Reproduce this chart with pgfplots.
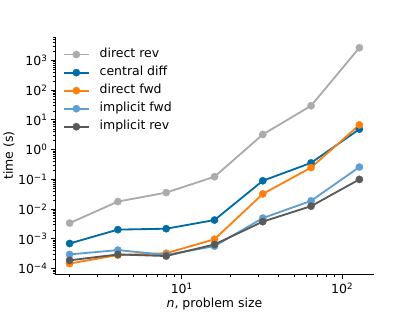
\documentclass[border=0pt]{standalone}
\usepackage{fontspec}
\setmainfont{DejaVu Sans}
\usepackage{pgfplots}
\pgfplotsset{compat=1.18}
\definecolor{cdrev}{HTML}{ABABAB}
\definecolor{ccd}{HTML}{006BA4}
\definecolor{cdfwd}{HTML}{FF800E}
\definecolor{cifwd}{HTML}{5F9ED1}
\definecolor{cirev}{HTML}{595959}
\begin{document}
\begin{tikzpicture}[font=\fontsize{12.6}{14.8}\selectfont]
\path (0,0) rectangle (415pt,311pt);
\begin{axis}[
  at={(51.9pt,34.2pt)}, anchor=south west,
  scale only axis, width=321.6pt, height=239.5pt,
  xmode=log, ymode=log,
  xmin=1.624, xmax=157.6,
  ymin=6.41e-5, ymax=6166,
  axis lines*=left,
  axis line style={line width=1pt},
  tick align=outside,
  major tick length=4.3pt, minor tick length=2.5pt,
  every major tick/.style={line width=1pt, black},
  every minor tick/.style={line width=0.74pt, black},
  xtick={10,100},
  xticklabels={10\textsuperscript{1},10\textsuperscript{2}},
  xticklabel style={yshift=-1pt},
  minor xtick={2,3,4,5,6,7,8,9,20,30,40,50,60,70,80,90},
  ytick={1e-4,1e-3,1e-2,1e-1,1,10,100,1000},
  yticklabels={10\textsuperscript{−4},10\textsuperscript{−3},10\textsuperscript{−2},10\textsuperscript{−1},10\textsuperscript{0},10\textsuperscript{1},10\textsuperscript{2},10\textsuperscript{3}},
  minor ytick={7e-5,8e-5,9e-5,
    2e-4,3e-4,4e-4,5e-4,6e-4,7e-4,8e-4,9e-4,
    2e-3,3e-3,4e-3,5e-3,6e-3,7e-3,8e-3,9e-3,
    2e-2,3e-2,4e-2,5e-2,6e-2,7e-2,8e-2,9e-2,
    0.2,0.3,0.4,0.5,0.6,0.7,0.8,0.9,
    2,3,4,5,6,7,8,9,
    20,30,40,50,60,70,80,90,
    200,300,400,500,600,700,800,900,
    2000,3000,4000,5000,6000},
  xlabel={\textit{n}, problem size},
  ylabel={time (s)},
  xlabel style={at={(axis description cs:0.5,-0.123)}, anchor=center},
  ylabel style={at={(axis description cs:-0.145,0.5)}, anchor=center},
  legend cell align=left,
  legend style={draw=none, fill=none, at={(0,1)}, anchor=north west,
    xshift=7.5pt, yshift=-11.5pt, inner sep=0pt, row sep=6.1pt, column sep=9.8pt,
    nodes={inner sep=0pt, text height=9.2pt, text depth=2.9pt}},
  legend image code/.code={\draw[mark repeat=2,mark phase=2,#1] plot coordinates {(0pt,0pt) (12.8pt,0pt) (25.6pt,0pt)};},
  every axis plot/.append style={line width=1.85pt, mark=*, mark size=3.7pt},
]
\addplot[color=cdrev, mark options={solid, fill=cdrev, draw=cdrev, line width=0.3pt}] coordinates {(2,3.4e-3) (4,0.018) (8,0.036) (16,0.123) (32,3.24) (64,30) (128,2673)};
\addlegendentry{direct rev}
\addplot[color=ccd, mark options={solid, fill=ccd, draw=ccd, line width=0.3pt}] coordinates {(2,7e-4) (4,2.05e-3) (8,2.2e-3) (16,4.3e-3) (32,0.09) (64,0.36) (128,4.9)};
\addlegendentry{central diff}
\addplot[color=cdfwd, mark options={solid, fill=cdfwd, draw=cdfwd, line width=0.3pt}] coordinates {(2,1.48e-4) (4,2.86e-4) (8,3.3e-4) (16,9.7e-4) (32,0.0325) (64,0.25) (128,6.8)};
\addlegendentry{direct fwd}
\addplot[color=cifwd, mark options={solid, fill=cifwd, draw=cifwd, line width=0.3pt}] coordinates {(2,3e-4) (4,4.2e-4) (8,2.9e-4) (16,5.7e-4) (32,5e-3) (64,0.019) (128,0.26)};
\addlegendentry{implicit fwd}
\addplot[color=cirev, mark options={solid, fill=cirev, draw=cirev, line width=0.3pt}] coordinates {(2,1.9e-4) (4,3e-4) (8,2.65e-4) (16,6.5e-4) (32,3.8e-3) (64,0.0126) (128,0.1)};
\addlegendentry{implicit rev}
\end{axis}
\end{tikzpicture}
\end{document}
